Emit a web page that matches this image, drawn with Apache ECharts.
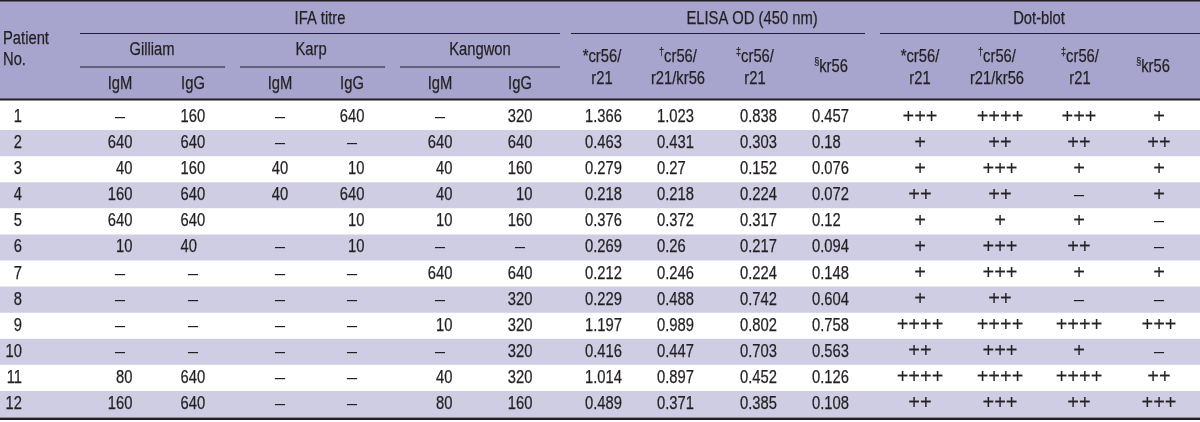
<!DOCTYPE html>
<html>
<head>
<meta charset="utf-8">
<script src="https://cdn.jsdelivr.net/npm/echarts@6/dist/echarts.min.js"></script>
<style>html,body{margin:0;padding:0;background:#fff}#c{width:1200px;height:422px}</style>
</head>
<body>
<div id="c"></div>
<script>
// ---------------- data ----------------
const patients = ['1','2','3','4','5','6','7','8','9','10','11','12'];
const gilliamIgM = ['–','640','40','160','640','10','–','–','–','–','80','160'];
const gilliamIgG = ['160','640','160','640','640','40','–','–','–','–','640','640'];
const karpIgM    = ['–','–','40','40','','–','–','–','–','–','–','–'];
const karpIgG    = ['640','–','10','640','10','10','–','–','–','–','–','–'];
const kangwonIgM = ['–','640','40','40','10','–','640','–','10','–','40','80'];
const kangwonIgG = ['320','640','160','10','160','–','640','320','320','320','320','160'];
const elisaCr56R21     = [1.366,0.463,0.279,0.218,0.376,0.269,0.212,0.229,1.197,0.416,1.014,0.489];
const elisaCr56R21Kr56 = [1.023,0.431,0.27,0.218,0.372,0.26,0.246,0.488,0.989,0.447,0.897,0.371];
const elisaCr56R21b    = [0.838,0.303,0.152,0.224,0.317,0.217,0.224,0.742,0.802,0.703,0.452,0.385];
const elisaKr56        = [0.457,0.18,0.076,0.072,0.12,0.094,0.148,0.604,0.758,0.563,0.126,0.108];
const dotCr56R21     = ['+++','+','+','++','+','+','+','+','++++','++','++++','++'];
const dotCr56R21Kr56 = ['++++','++','+++','++','+','+++','+++','++','++++','+++','++++','+++'];
const dotCr56R21b    = ['+++','++','+','–','+','++','+','–','++++','+','++++','++'];
const dotKr56        = ['+','++','+','+','–','–','+','–','+++','–','++','+++'];

// header labels
const patientTitle = 'Patient\nNo.';
const groupTitles = ['IFA titre','ELISA OD (450 nm)','Dot-blot'];
const strainTitles = ['Gilliam','Karp','Kangwon'];
const isoTitles = ['IgM','IgG','IgM','IgG','IgM','IgG'];
const antigenTitles = ['*cr56/\nr21','†cr56/\nr21/kr56','‡cr56/\nr21','§kr56'];

// ---------------- layout / style ----------------
const INK = '#231f20';
const HEAD_BG = '#a7a5cd';
const SHADE = '#cfcde4';
const FONT = '"Liberation Sans",Arial,Helvetica,sans-serif';
const NARROW_SCALE = 0.82;
const FS = 18;
const W = 1200;

const ifaCenters = [120,193,280,352,440,520];
const ifaNumAlign = ['right','left','center','right','right','right'];
const elisaLeft = [585,657,740,812];
const dotCenters = [920,1000,1079,1159];
const patientRight = 22;

const groupSpec = [
  {x:320, line:[80,560]},
  {x:752, line:[571,865]},
  {x:1039, line:[880,1200]}
];
const strainSpec = [
  {x:152, line:[80,225]},
  {x:311, line:[240,385]},
  {x:480, line:[400,560]}
];
const antigenCentersElisa = [602,678,755,831];
const antigenCentersDot = [920,997,1080,1153];

// condensed text element (horizontal scale emulates a narrow face)
function textEl(text, x, y, align, o) {
  o = o || {};
  return {
    type:'text', silent:true, x, y, scaleX: o.noScale ? 1 : NARROW_SCALE,
    style: Object.assign({
      text, x:0, y:0, align: align || 'center', verticalAlign:'middle',
      fontSize: o.size || FS, fontFamily: FONT, fill: INK, lineHeight: o.lineHeight || 22,
      stroke: INK, lineWidth: o.noScale ? 0.1 : 0.25
    }, o.rich ? {rich:o.rich} : {})
  };
}

// ---------------- series builders ----------------
function cellSeries(values, place) {
  return {
    type:'custom', coordinateSystem:'cartesian2d', silent:true, animation:false,
    encode:{x:0, y:1},
    data: values.map((v,i)=>[0,i]),
    renderItem(params, api){
      const s = String(values[params.dataIndex]);
      if (!s) return null;
      const a = place(s);
      const p = api.coord([a.x, api.value(1)]);
      return textEl(s, p[0], p[1], a.align, a);
    }
  };
}

const shadeSeries = {
  type:'custom', coordinateSystem:'cartesian2d', silent:true, animation:false,
  encode:{x:0, y:1},
  data: patients.map((p,i)=>[0,i]),
  renderItem(params, api){
    const i = api.value(1);
    if (i % 2 === 0) return null;
    const a = api.coord([0,i]), b = api.coord([W,i]);
    const h = api.size([0,1])[1];
    return {type:'rect', shape:{x:a[0], y:a[1]-h/2, width:b[0]-a[0], height:h}, style:{fill:SHADE}};
  }
};

const series = [shadeSeries];
series.push(cellSeries(patients, ()=>({x:patientRight, align:'right'})));
[gilliamIgM,gilliamIgG,karpIgM,karpIgG,kangwonIgM,kangwonIgG].forEach((col,k)=>{
  const c = ifaCenters[k];
  const al = ifaNumAlign[k];
  const nx = al === 'right' ? c + 12.5 : al === 'left' ? c - 12.5 : c;
  series.push(cellSeries(col, s => s === '–'
    ? {x:c, align:'center', noScale:true}
    : {x:nx, align:al}));
});
[elisaCr56R21,elisaCr56R21Kr56,elisaCr56R21b,elisaKr56].forEach((col,k)=>{
  series.push(cellSeries(col, ()=>({x:elisaLeft[k], align:'left'})));
});
[dotCr56R21,dotCr56R21Kr56,dotCr56R21b,dotKr56].forEach((col,k)=>{
  series.push(cellSeries(col, s => ({x:dotCenters[k], align:'center', noScale:true, size: s==='–'?FS:20})));
});

// ---------------- header graphics ----------------
function hline(x1, x2, y, w) {
  return {type:'line', silent:true, shape:{x1, y1:y, x2, y2:y}, style:{stroke:INK, lineWidth:w||1.2}};
}
const supRich = {s:{fontSize:11, fontFamily:FONT, fill:INK, lineHeight:16, verticalAlign:'top'}};
function richify(t){ return t.replace(/([†‡§])/g, '{s|$1}'); }

const graphics = [
  {type:'rect', silent:true, shape:{x:0,y:0,width:W,height:99}, style:{fill:HEAD_BG}},
  {type:'rect', silent:true, shape:{x:0,y:0,width:W,height:1.6}, style:{fill:INK}},
  {type:'rect', silent:true, shape:{x:0,y:98.4,width:W,height:2}, style:{fill:INK}},
  {type:'rect', silent:true, shape:{x:0,y:417.4,width:W,height:2.6}, style:{fill:INK}},
  textEl(patientTitle, 3, 49.75, 'left', {lineHeight:21.5})
];
groupTitles.forEach((t,k)=>{
  graphics.push(textEl(t, groupSpec[k].x, 19));
  graphics.push(hline(groupSpec[k].line[0], groupSpec[k].line[1], 33.5));
});
strainTitles.forEach((t,k)=>{
  graphics.push(textEl(t, strainSpec[k].x, 50.5));
  graphics.push(hline(strainSpec[k].line[0], strainSpec[k].line[1], 67));
});
isoTitles.forEach((t,k)=>graphics.push(textEl(t, ifaCenters[k], 84)));
antigenTitles.forEach((t,k)=>{
  const y = t.indexOf('\n') >= 0 ? 68 : 67;
  graphics.push(textEl(richify(t), antigenCentersElisa[k], y, 'center', {rich:supRich}));
  graphics.push(textEl(richify(t), antigenCentersDot[k], y, 'center', {rich:supRich}));
});

const chart = echarts.init(document.getElementById('c'), null, {renderer:'canvas'});
chart.setOption({
  animation:false,
  backgroundColor:'#ffffff',
  grid:{left:0, right:0, top:104, bottom:5, containLabel:false},
  xAxis:{type:'value', min:0, max:W, show:false},
  yAxis:{type:'category', data:patients, inverse:true, show:false, boundaryGap:true},
  series,
  graphic:{elements:graphics}
});
</script>
</body>
</html>
